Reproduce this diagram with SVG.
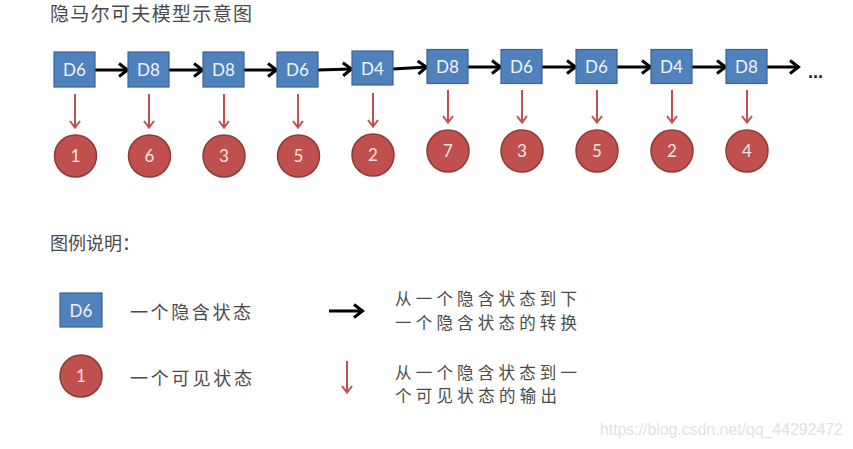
<svg xmlns="http://www.w3.org/2000/svg" width="853" height="449" viewBox="0 0 853 449">
<defs>
<style>
.box{fill:#4f81bd;stroke:#3a6595;stroke-width:1.2}
.circ{fill:#c0504d;stroke:#8e3b38;stroke-width:1.5}
.lbl{font-family:Lato,"Open Sans","Liberation Sans",sans-serif;font-size:17px;fill:#f2f4fa;text-anchor:middle}
.num{font-family:Lato,"Open Sans","Liberation Sans",sans-serif;font-size:17px;fill:#f8e6e6;text-anchor:middle}
.cn{font-family:"Noto Sans CJK SC","Liberation Serif",serif;fill:#4a4a4a}
.blk{stroke:#000;stroke-width:3;fill:none}
.red{stroke:#c0504d;stroke-width:2;fill:none}
</style>
<marker id="ah" markerUnits="userSpaceOnUse" markerWidth="14" markerHeight="16" refX="12" refY="8" orient="auto">
<path d="M3,1.5 L11.5,8 L3,14.5" fill="none" stroke="#000" stroke-width="3" stroke-linejoin="miter"/>
</marker>
<marker id="rh" markerUnits="userSpaceOnUse" markerWidth="14" markerHeight="14" refX="11" refY="7" orient="auto">
<path d="M4,2 L10.5,7 L4,12" fill="none" stroke="#c0504d" stroke-width="2"/>
</marker>
</defs>
<rect width="853" height="449" fill="#fff"/>
<text class="cn" x="50" y="21" font-size="19" textLength="202">隐马尔可夫模型示意图</text>

<g id="connectors">
<line class="blk" x1="95" y1="70" x2="128" y2="70" marker-end="url(#ah)"/>
<line class="blk" x1="169" y1="70" x2="203" y2="70" marker-end="url(#ah)"/>
<line class="blk" x1="244" y1="70" x2="277" y2="70" marker-end="url(#ah)"/>
<line class="blk" x1="318" y1="70" x2="352" y2="69" marker-end="url(#ah)"/>
<line class="blk" x1="393" y1="69" x2="427" y2="67" marker-end="url(#ah)"/>
<line class="blk" x1="468" y1="67" x2="501" y2="67" marker-end="url(#ah)"/>
<line class="blk" x1="542" y1="67" x2="576" y2="67" marker-end="url(#ah)"/>
<line class="blk" x1="617" y1="67" x2="651" y2="67" marker-end="url(#ah)"/>
<line class="blk" x1="692" y1="67" x2="726" y2="67" marker-end="url(#ah)"/>
<line class="blk" x1="767" y1="67" x2="799" y2="67" marker-end="url(#ah)"/>
<line class="red" x1="75" y1="94" x2="75" y2="128" marker-end="url(#rh)"/>
<line class="red" x1="149" y1="94" x2="149" y2="128" marker-end="url(#rh)"/>
<line class="red" x1="224" y1="94" x2="224" y2="128" marker-end="url(#rh)"/>
<line class="red" x1="298" y1="94" x2="298" y2="128" marker-end="url(#rh)"/>
<line class="red" x1="373" y1="93" x2="373" y2="127" marker-end="url(#rh)"/>
<line class="red" x1="448" y1="90" x2="448" y2="123" marker-end="url(#rh)"/>
<line class="red" x1="522" y1="90" x2="522" y2="123" marker-end="url(#rh)"/>
<line class="red" x1="597" y1="90" x2="597" y2="123" marker-end="url(#rh)"/>
<line class="red" x1="672" y1="90" x2="672" y2="123" marker-end="url(#rh)"/>
<line class="red" x1="747" y1="90" x2="747" y2="123" marker-end="url(#rh)"/>
</g>
<text x="808" y="78" font-family="Liberation Sans,sans-serif" font-size="18" font-weight="bold" fill="#222">...</text>

<g id="h1"><rect class="box" x="54" y="52" width="41" height="35"/><text class="lbl" x="74.5" y="76">D6</text></g>
<g id="h2"><rect class="box" x="128" y="52" width="41" height="35"/><text class="lbl" x="148.5" y="76">D8</text></g>
<g id="h3"><rect class="box" x="203" y="52" width="41" height="35"/><text class="lbl" x="223.5" y="76">D8</text></g>
<g id="h4"><rect class="box" x="277" y="52" width="41" height="35"/><text class="lbl" x="297.5" y="76">D6</text></g>
<g id="h5"><rect class="box" x="352" y="51" width="41" height="34"/><text class="lbl" x="372.5" y="74.5">D4</text></g>
<g id="h6"><rect class="box" x="427" y="49.5" width="41" height="34"/><text class="lbl" x="447.5" y="73">D8</text></g>
<g id="h7"><rect class="box" x="501" y="49.5" width="41" height="34"/><text class="lbl" x="521.5" y="73">D6</text></g>
<g id="h8"><rect class="box" x="576" y="49.5" width="41" height="34"/><text class="lbl" x="596.5" y="73">D6</text></g>
<g id="h9"><rect class="box" x="651" y="49.5" width="41" height="34"/><text class="lbl" x="671.5" y="73">D4</text></g>
<g id="h10"><rect class="box" x="726" y="49.5" width="41" height="34"/><text class="lbl" x="746.5" y="73">D8</text></g>

<g id="o1"><circle class="circ" cx="75.5" cy="156" r="21"/><text class="num" x="75.5" y="162">1</text></g>
<g id="o2"><circle class="circ" cx="149.5" cy="156" r="21"/><text class="num" x="149.5" y="162">6</text></g>
<g id="o3"><circle class="circ" cx="224" cy="156" r="21"/><text class="num" x="224" y="162">3</text></g>
<g id="o4"><circle class="circ" cx="298.5" cy="156" r="21"/><text class="num" x="298.5" y="162">5</text></g>
<g id="o5"><circle class="circ" cx="373" cy="155" r="21"/><text class="num" x="373" y="161">2</text></g>
<g id="o6"><circle class="circ" cx="448" cy="151" r="21"/><text class="num" x="448" y="157">7</text></g>
<g id="o7"><circle class="circ" cx="522" cy="151" r="21"/><text class="num" x="522" y="157">3</text></g>
<g id="o8"><circle class="circ" cx="597" cy="151" r="21"/><text class="num" x="597" y="157">5</text></g>
<g id="o9"><circle class="circ" cx="672" cy="151" r="21"/><text class="num" x="672" y="157">2</text></g>
<g id="o10"><circle class="circ" cx="747" cy="151" r="21"/><text class="num" x="747" y="157">4</text></g>

<text class="cn" x="50" y="250" font-size="18" textLength="90">图例说明：</text>

<g id="legend">
<g id="leg-hidden"><rect class="box" x="60" y="293" width="42" height="34"/><text class="lbl" x="81" y="317">D6</text></g>
<text class="cn" x="130" y="319" font-size="18" textLength="121">一个隐含状态</text>
<g id="leg-visible"><circle class="circ" cx="81" cy="376" r="21"/><text class="num" x="81" y="382">1</text></g>
<text class="cn" x="130" y="385" font-size="18" textLength="122">一个可见状态</text>
<line class="blk" x1="329" y1="311" x2="363" y2="311" marker-end="url(#ah)"/>
<line class="red" x1="347" y1="361" x2="347" y2="393" marker-end="url(#rh)"/>
<text class="cn" x="395" y="305" font-size="16.5" textLength="182">从一个隐含状态到下</text>
<text class="cn" x="395" y="329" font-size="16.5" textLength="182">一个隐含状态的转换</text>
<text class="cn" x="395" y="379" font-size="16.5" textLength="182">从一个隐含状态到一</text>
<text class="cn" x="395" y="402" font-size="16.5" textLength="162">个可见状态的输出</text>
</g>

<text x="600" y="435" font-family="Liberation Sans,Arial,sans-serif" font-size="16" fill="#e2e2e2" textLength="243">https://blog.csdn.net/qq_44292472</text>
</svg>
